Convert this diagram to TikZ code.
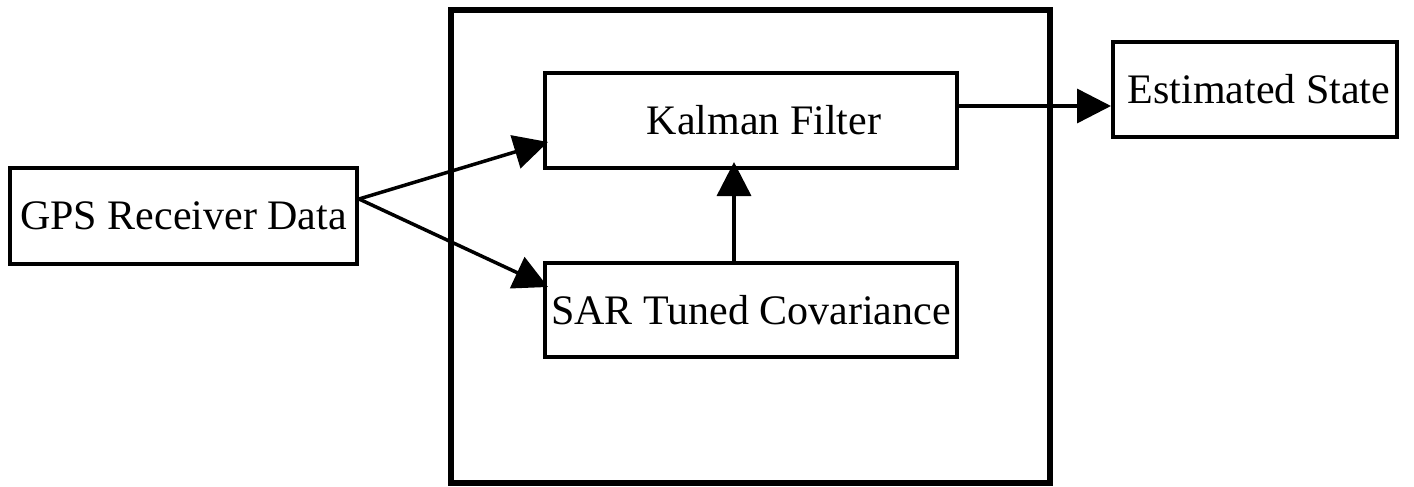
\documentclass[tikz,border=0pt]{standalone}
\usepackage{fontspec}
\setmainfont{Liberation Serif}
\newfontfamily\diagfont{Liberation Serif}
\usetikzlibrary{arrows.meta,calc}
\begin{document}
\begin{tikzpicture}[x=1pt,y=-1pt,
  box/.style={draw=black,line width=4pt,rectangle,inner sep=0pt,align=center,
    font=\diagfont\fontsize{42}{50}\selectfont},
  arr/.style={line width=3.5pt,-{Triangle[length=34pt,width=34pt]}}]
\useasboundingbox (0,0) rectangle (1414,487);
\node[draw=black,line width=6pt,minimum width=599pt,minimum height=473pt,inner sep=0pt] (outer) at (750.5,246.5) {};
\node[box,minimum width=412pt,minimum height=95pt] (kal) at (751,120.5) {\hspace*{26pt}Kalman Filter};
\node[box,minimum width=412pt,minimum height=94pt] (sar) at (751,310) {SAR Tuned Covariance};
\node[box,minimum width=347pt,minimum height=96pt] (gps) at (183.5,216) {GPS Receiver Data};
\node[box,minimum width=284pt,minimum height=95pt] (est) at (1255,89.5) {\hspace*{8pt}Estimated State};
\coordinate (gpsout) at ($(gps.east)+(0,-17)$);
\coordinate (kalin) at ($(kal.west)+(5,21.5)$);
\coordinate (sarin) at ($(sar.west)+(5,-23)$);
\coordinate (sarout) at ($(sar.north)+(-17,0)$);
\coordinate (kalbot) at ($(kal.south)+(-17,-8)$);
\coordinate (kalout) at ($(kal.east)+(0,-14.5)$);
\coordinate (estin) at (est.west |- kalout);
\draw[arr] (gpsout) -- (kalin);
\draw[arr] (gpsout) -- (sarin);
\draw[arr] (sarout) -- (kalbot);
\draw[arr] (kalout) -- (estin);
\end{tikzpicture}
\end{document}
